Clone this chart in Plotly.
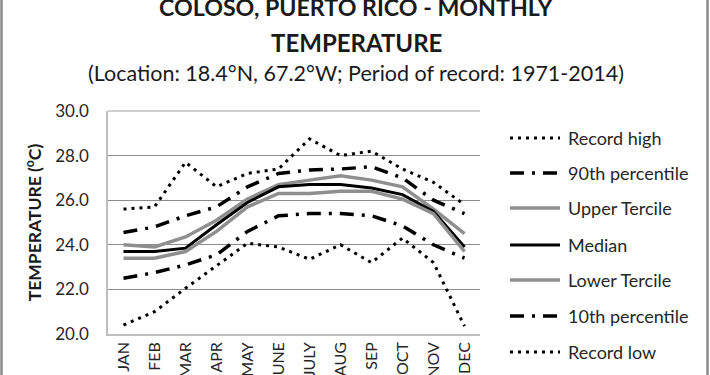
import plotly.graph_objects as go

months = ["JAN", "FEB", "MAR", "APR", "MAY", "JUNE", "JULY", "AUG", "SEP", "OCT", "NOV", "DEC"]
record_high = [25.6, 25.7, 27.7, 26.6, 27.2, 27.4, 28.75, 28.0, 28.2, 27.4, 26.8, 25.8]
p90 = [24.55, 24.8, 25.3, 25.7, 26.6, 27.2, 27.35, 27.4, 27.5, 27.0, 26.0, 25.4]
upper_tercile = [24.0, 23.9, 24.35, 25.1, 26.05, 26.7, 26.9, 27.1, 26.9, 26.6, 25.6, 24.5]
median = [23.7, 23.7, 23.85, 24.9, 25.9, 26.6, 26.7, 26.7, 26.55, 26.25, 25.5, 23.9]
lower_tercile = [23.4, 23.4, 23.7, 24.6, 25.7, 26.3, 26.3, 26.4, 26.4, 26.05, 25.4, 23.7]
p10 = [22.5, 22.75, 23.1, 23.55, 24.6, 25.3, 25.4, 25.4, 25.3, 24.85, 24.0, 23.4]
record_low = [20.4, 21.0, 22.05, 23.05, 24.07, 23.9, 23.35, 24.0, 23.2, 24.3, 23.2, 20.35]
y_ticks = [20, 22, 24, 26, 28, 30]

FONT = "Lato, 'Open Sans', sans-serif"
GRAY = "#8f8f8f"
DOT = dict(color="black", width=3, dash="3px,5px")
DASHDOT = dict(color="black", width=3.5, dash="14px,8px,3px,8px")

series = [
    ("Record high", record_high, DOT),
    ("90th percentile", p90, DASHDOT),
    ("Upper Tercile", upper_tercile, dict(color=GRAY, width=3.5)),
    ("Median", median, dict(color="black", width=3)),
    ("Lower Tercile", lower_tercile, dict(color=GRAY, width=3.5)),
    ("10th percentile", p10, DASHDOT),
    ("Record low", record_low, DOT),
]

W, H = 710, 375
L, R, T, B = 108, 230, 111, 41

def px_to_xpaper(px):
    return (px - L) / (W - L - R)

def py_to_ypaper(py):
    return (H - B - py) / (H - T - B)

fig = go.Figure()
for name, vals, line in series:
    fig.add_trace(go.Scatter(x=months, y=vals, name=name, mode="lines", line=line,
                             showlegend=False))

fig.update_layout(
    width=W, height=H,
    margin=dict(l=L, r=R, t=T, b=B, autoexpand=False),
    paper_bgcolor="white", plot_bgcolor="white",
    font=dict(family=FONT, color="#262626"),
    showlegend=False,
    xaxis=dict(type="category", tickangle=-90, tickfont=dict(size=16, color="#262626"),
               showgrid=False, showline=True, linecolor="#bfbfbf", linewidth=1.5,
               ticks="", automargin=False, range=[-0.5, 11.5]),
    yaxis=dict(range=[20, 30], tickvals=y_ticks, tickformat=".1f",
               tickfont=dict(size=17, color="#262626"),
               showgrid=True, gridcolor="#8c8c8c", gridwidth=1,
               showline=True, linecolor="#bfbfbf", linewidth=1.5,
               ticks="", ticklabelstandoff=14, automargin=False,
               title=dict(text="<b>TEMPERATURE (<sup>o</sup>C)</b>",
                          font=dict(size=17.5, color="#1a1a1a"), standoff=9)),
)

cx = px_to_xpaper(356)
annotations = [
    dict(text="<b>COLOSO, PUERTO RICO - MONTHLY</b>", xref="paper", yref="paper",
         x=cx, y=py_to_ypaper(7), xanchor="center", yanchor="middle", showarrow=False,
         font=dict(size=23.2, color="#1a1a1a")),
    dict(text="<b>TEMPERATURE</b>", xref="paper", yref="paper",
         x=cx, y=py_to_ypaper(42), xanchor="center", yanchor="middle", showarrow=False,
         font=dict(size=24, color="#1a1a1a")),
    dict(text="(Location: 18.4°N, 67.2°W; Period of record: 1971-2014)", xref="paper", yref="paper",
         x=cx, y=py_to_ypaper(73), xanchor="center", yanchor="middle", showarrow=False,
         font=dict(size=21.5, color="#1a1a1a")),
]

# manual legend
legend_y = [138, 173, 208, 245, 280, 316, 352]
for (name, vals, line), ly in zip(series, legend_y):
    fig.add_shape(type="line", xref="paper", yref="paper",
                  x0=px_to_xpaper(510), x1=px_to_xpaper(560),
                  y0=py_to_ypaper(ly), y1=py_to_ypaper(ly), line=line, layer="above")
    annotations.append(dict(text=name, xref="paper", yref="paper",
                            x=px_to_xpaper(566), y=py_to_ypaper(ly),
                            xanchor="left", yanchor="middle", showarrow=False,
                            font=dict(size=18, color="#262626")))
fig.update_layout(annotations=annotations)

fig.add_shape(type="line", xref="paper", yref="paper", x0=0, x1=1, y0=1, y1=1,
              line=dict(color="#bfbfbf", width=1.5), layer="above")
for px in (1.5, 707.5):
    fig.add_shape(type="line", xref="paper", yref="paper",
                  x0=px_to_xpaper(px), x1=px_to_xpaper(px),
                  y0=py_to_ypaper(-5), y1=py_to_ypaper(380),
                  line=dict(color="#8a8a8a", width=2.5), layer="above")

fig.write_html("out.html", config={"displayModeBar": False},
               post_script="document.body.style.margin='0px';")
